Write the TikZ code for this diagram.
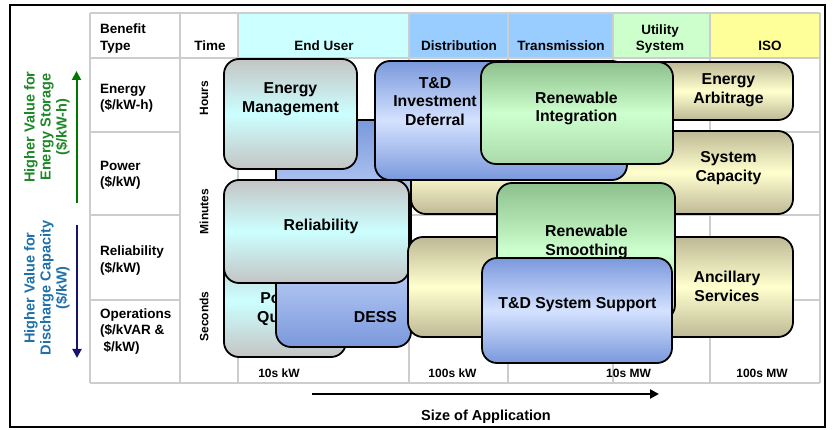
\documentclass[tikz,border=0pt]{standalone}
\usepackage{fontspec}
\setmainfont{Liberation Sans}
\usetikzlibrary{arrows.meta}
\definecolor{gridc}{RGB}{205,205,205}
\definecolor{hEnd}{RGB}{204,255,255}
\definecolor{hDist}{RGB}{153,204,255}
\definecolor{hUtil}{RGB}{204,255,204}
\definecolor{hISO}{RGB}{255,255,153}
\definecolor{gcA}{RGB}{196,196,196}
\definecolor{gcB}{RGB}{204,255,255}
\definecolor{blA}{RGB}{122,152,220}
\definecolor{blB}{RGB}{212,226,255}
\definecolor{khA}{RGB}{190,185,150}
\definecolor{khB}{RGB}{255,255,206}
\definecolor{grA}{RGB}{140,192,140}
\definecolor{grB}{RGB}{206,255,206}
\definecolor{grC}{RGB}{170,218,170}
\definecolor{greenT}{RGB}{30,136,40}
\definecolor{greenA}{RGB}{0,120,0}
\definecolor{blueT}{RGB}{32,112,170}
\definecolor{blueA}{RGB}{20,20,110}
\begin{document}
\begin{tikzpicture}[x=1pt,y=-1pt,
  boxt/.style={font=\fontsize{15.8}{18.6}\selectfont\bfseries, align=center, inner sep=0pt},
  hdr/.style={font=\fontsize{13.5}{16.5}\selectfont\bfseries, align=center, inner sep=0pt},
  rowl/.style={font=\fontsize{13.5}{16.5}\selectfont\bfseries, align=left, anchor=west, inner sep=0pt},
  smalll/.style={font=\fontsize{12}{14}\selectfont\bfseries, inner sep=0pt},
  sidel/.style={font=\fontsize{14.5}{16}\selectfont\bfseries, align=center, rotate=90, inner sep=0pt},
  gridline/.style={draw=gridc, line width=2.5pt},
  rb/.style={draw=black, line width=1.8pt, rounded corners=15pt},
  gcbox/.style={rb, top color=gcA, bottom color=gcA, middle color=gcB},
  bluebox/.style={rb, top color=blA, bottom color=blA, middle color=blB},
  khbox/.style={rb, top color=khA, bottom color=khA, middle color=khB},
  grbox/.style={rb, top color=grA, bottom color=grC, middle color=grB},
  tip/.style={-{Triangle[length=9pt,width=9pt]}}
]
\useasboundingbox (0,0) rectangle (839,430);
\fill[white] (0,0) rectangle (839,430);

% header fills
\fill[hEnd] (238,13) rectangle (409,58);
\fill[hDist] (409,13) rectangle (508,58);
\fill[hDist] (508,13) rectangle (613,58);
\fill[hUtil] (613,13) rectangle (710,58);
\fill[hISO] (710,13) rectangle (820,58);

% grid
\foreach \gx in {90,180,238,409,508,613,710,820}
  \draw[gridline] (\gx,13) -- (\gx,383);
\foreach \gy in {13,58,383}
  \draw[gridline] (90,\gy) -- (820,\gy);
\foreach \gy in {132,215,300} {
  \draw[gridline] (90,\gy) -- (180,\gy);
  \draw[gridline] (238,\gy) -- (820,\gy);
}

% header texts
\node[hdr, align=left, anchor=west] (hbt) at (100,38.5) {Benefit\\Type};
\node[hdr] (htime) at (210,45.5) {Time};
\node[hdr] (hend) at (324,45.5) {End User};
\node[hdr] (hdist) at (459,45.5) {Distribution};
\node[hdr] (htrans) at (561,45.5) {Transmission};
\node[hdr] (hutil) at (660,39) {Utility\\System};
\node[hdr] (hiso) at (770,45.5) {ISO};

% row labels
\node[rowl] (renergy) at (100,98.5) {Energy\\(\$/kW-h)};
\node[rowl] (rpower) at (100,175.5) {Power\\(\$/kW)};
\node[rowl] (rrel) at (100,260.5) {Reliability\\(\$/kW)};
\node[rowl] (rops) at (100,331.5) {Operations\\(\$/kVAR \&\\\hspace*{3.5pt}\$/kW)};

% time labels
\node[smalll, rotate=90] (thours) at (204,98) {Hours};
\node[smalll, rotate=90] (tmin) at (204,211.5) {Minutes};
\node[smalll, rotate=90] (tsec) at (204,316.5) {Seconds};

% scale labels
\node[smalll] (s1) at (279,373.3) {10s kW};
\node[smalll] (s2) at (452.5,373.3) {100s kW};
\node[smalll] (s3) at (628.5,373.3) {10s MW};
\node[smalll] (s4) at (762,373.3) {100s MW};

% side labels and arrows
\node[sidel, text=greenT] (lenergy) at (47,127) {Higher Value for\\Energy Storage\\(\$/kW-h)};
\node[sidel, text=blueT] (ldis) at (47,288) {Higher Value for\\Discharge Capacity\\(\$/kW)};
\coordinate (ga1) at (76.5,203);
\coordinate (ga2) at (76.5,71);
\coordinate (ba1) at (77,225);
\coordinate (ba2) at (77,358);
\draw[tip, draw=greenA, fill=greenA, line width=2pt] (ga1) -- (ga2);
\draw[tip, draw=blueA, fill=blueA, line width=2pt] (ba1) -- (ba2);

% size arrow
\coordinate (sa1) at (312,394);
\coordinate (sa2) at (659,394);
\draw[tip, draw=black, fill=black, line width=2.2pt] (sa1) -- (sa2);
\node[font=\fontsize{14.5}{16}\selectfont\bfseries, inner sep=0pt] (size) at (486,416.5) {Size of Application};

% boxes (back to front)
\draw[gcbox] (224,245) rectangle (346,357);
\node[boxt] (pq) at (284,309.5) {Power\\Quality};

\draw[bluebox] (276,120) rectangle (411,347);
\node[boxt] (dess) at (375.5,317.5) {DESS};

\draw[gcbox] (224,59) rectangle (357,169);
\node[boxt] (em) at (290.5,99.3) {Energy\\Management};

\draw[gcbox] (224,180) rectangle (409,283);
\node[boxt] (rel) at (321,226.5) {Reliability};

\draw[khbox] (640,62) rectangle (793,120);
\node[boxt] (ea) at (728.5,90.3) {Energy\\Arbitrage};

\draw[khbox] (411,131) rectangle (793,214);
\node[boxt] (sc) at (728.5,168.3) {System\\Capacity};

\draw[khbox] (408,237) rectangle (793,337);
\node[boxt] (as) at (727,286.3) {Ancillary\\Services};

\draw[bluebox] (375,61) rectangle (627,180);
\node[boxt] (tdi) at (435,101.5) {T\&D\\Investment\\Deferral};

\draw[grbox] (481,62) rectangle (673,164);
\node[boxt] (ri) at (576.5,108.5) {Renewable\\Integration};

\draw[grbox] (497,183) rectangle (675,320);
\node[boxt] (rs) at (586.5,241.7) {Renewable\\Smoothing};

\draw[bluebox] (482,258) rectangle (672,363);
\node[boxt] (tds) at (577.5,305) {T\&D System Support};

% outer frame
\draw[black, line width=2pt] (10,5) rectangle (825,427);
\end{tikzpicture}
\end{document}
